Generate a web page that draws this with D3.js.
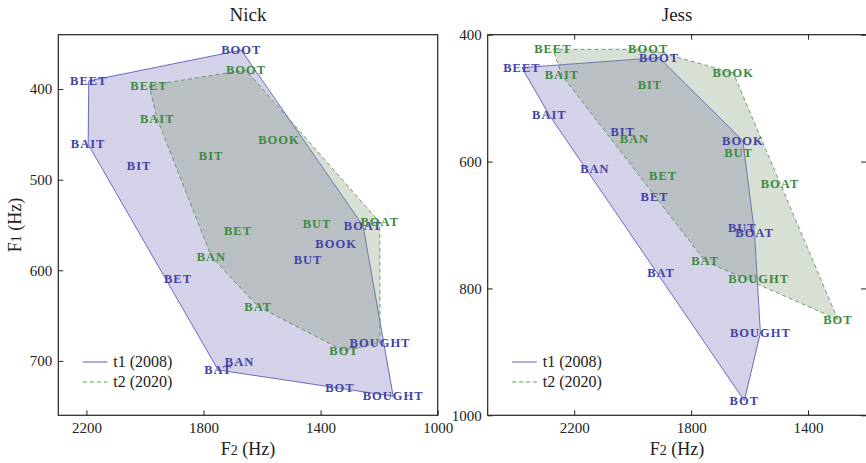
<!DOCTYPE html>
<html>
<head>
<meta charset="utf-8">
<script src="https://cdn.jsdelivr.net/npm/d3@7"></script>
<style>
  body { margin: 0; background: #fff; }
  svg { display: block; font-family: "Liberation Serif", "DejaVu Serif", serif; }
</style>
</head>
<body>
<svg id="chart" width="866" height="463"></svg>
<script>
// vowel order shared by every series below
const vowels = ["BEET", "BAIT", "BIT", "BET", "BAN", "BAT", "BOT", "BOUGHT", "BUT", "BOOK", "BOAT", "BOOT"];

// Nick, formant values in Hz
const nickT1F2 = [2192, 2194, 2020, 1887, 1677, 1750, 1334, 1152, 1443, 1347, 1255, 1671];
const nickT1F1 = [391, 461, 485, 609, 701, 710, 730, 739, 588, 571, 551, 357];
const nickT2F2 = [1986, 1958, 1774, 1682, 1773, 1613, 1320, 1197, 1412, 1542, 1198, 1655];
const nickT2F1 = [396, 433, 474, 556, 585, 640, 689, 680, 549, 456, 547, 379];

// Jess
const jessT1F2 = [2379, 2285, 2034, 1925, 2129, 1903, 1618, 1563, 1625, 1623, 1583, 1910];
const jessT1F1 = [452, 527, 553, 656, 612, 776, 977, 870, 705, 567, 713, 436];
const jessT2F2 = [2273, 2242, 1941, 1896, 1994, 1752, 1298, 1569, 1638, 1656, 1496, 1947];
const jessT2F1 = [423, 464, 479, 623, 565, 757, 849, 785, 587, 460, 635, 423];

const seriesNames = ["t1 (2008)", "t2 (2020)"];

const nickXTicks = [2200, 1800, 1400, 1000];
const nickYTicks = [400, 500, 600, 700];
const jessXTicks = [2200, 1800, 1400];
const jessYTicks = [400, 600, 800, 1000];

// the source figure prints Nick's 2020 BOUGHT label in the 2008 colour
const t2LabelsInT1Colour = ["Nick:BOUGHT"];

const svg = d3.select("#chart");

const style = {
    t1: { text: "#4343a6", stroke: "#4a4ab4", fill: "rgb(60,50,150)", fillOpacity: 0.22, dash: null },
    t2: { text: "#3c8a40", stroke: "#4b8c4b", fill: "rgb(125,148,111)", fillOpacity: 0.3, dash: "4,3" }
};

const panels = [
    {
        name: "Nick", x0: 58.3, x1: 437.7, frameRight: 437.7,
        f2Domain: [2296, 1000], f1Domain: [340, 760],
        xTicks: nickXTicks, yTicks: nickYTicks, mirror: false,
        t1: { f2: nickT1F2, f1: nickT1F1 }, t2: { f2: nickT2F2, f1: nickT2F1 }
    },
    {
        // right frame edge sits just past the picture
        name: "Jess", x0: 487.7, x1: 866.5, frameRight: 867.5,
        f2Domain: [2496, 1200], f1Domain: [400, 1000],
        xTicks: jessXTicks, yTicks: jessYTicks, mirror: true,
        t1: { f2: jessT1F2, f1: jessT1F1 }, t2: { f2: jessT2F2, f1: jessT2F1 }
    }
];
const y0 = 34.7, y1 = 415.3;

panels.forEach(p => {
    const x = d3.scaleLinear().domain(p.f2Domain).range([p.x0, p.x1]);
    const y = d3.scaleLinear().domain(p.f1Domain).range([y0, y1]);
    const g = svg.append("g");

    const pts = k => vowels.map((v, i) => ({ v, px: x(p[k].f2[i]), py: y(p[k].f1[i]) }));
    const series = { t1: pts("t1"), t2: pts("t2") };

    // hull fills
    ["t1", "t2"].forEach(k => {
        const hull = d3.polygonHull(series[k].map(d => [d.px, d.py]));
        g.append("path")
            .attr("d", "M" + hull.join("L") + "Z")
            .attr("fill", style[k].fill)
            .attr("fill-opacity", style[k].fillOpacity)
            .attr("stroke", style[k].stroke)
            .attr("stroke-width", 0.8)
            .attr("stroke-dasharray", style[k].dash);
    });

    // vowel labels
    ["t1", "t2"].forEach(k => {
        g.selectAll(null).data(series[k]).join("text")
            .attr("x", d => d.px)
            .attr("y", d => d.py)
            .attr("dy", "0.33em")
            .attr("text-anchor", "middle")
            .attr("font-size", 12.5)
            .attr("font-weight", "bold")
            .attr("letter-spacing", 1)
            .attr("fill", d => (k === "t2" && t2LabelsInT1Colour.includes(p.name + ":" + d.v)) ? style.t1.text : style[k].text)
            .text(d => d.v);
    });

    // axes, ticks point inward
    const axL = g.append("g").attr("transform", `translate(${p.x0},0)`)
        .call(d3.axisLeft(y).tickValues(p.yTicks).tickSize(-5).tickPadding(6).tickFormat(d3.format("d")));
    const axB = g.append("g").attr("transform", `translate(0,${y1})`)
        .call(d3.axisBottom(x).tickValues(p.xTicks).tickSize(-5).tickPadding(7).tickFormat(d3.format("d")));
    const axes = [axL, axB];
    if (p.mirror) {
        axes.push(g.append("g").attr("transform", `translate(0,${y0})`)
            .call(d3.axisTop(x).tickValues(p.xTicks).tickSize(-5).tickFormat("")));
        axes.push(g.append("g").attr("transform", `translate(866,0)`)
            .call(d3.axisRight(y).tickValues(p.yTicks).tickSize(-5).tickFormat("")));
    }
    axes.forEach(a => {
        a.select(".domain").remove();
        a.selectAll(".tick line").attr("stroke", "#222");
        a.selectAll(".tick text").attr("font-size", 15).attr("fill", "#222")
            .attr("font-family", "Liberation Serif, serif");
    });

    g.append("rect")
        .attr("x", p.x0).attr("y", y0)
        .attr("width", p.frameRight - p.x0).attr("height", y1 - y0)
        .attr("fill", "none").attr("stroke", "#222").attr("stroke-width", 1.2);

    // title
    g.append("text")
        .attr("x", (p.x0 + p.x1) / 2).attr("y", 21)
        .attr("text-anchor", "middle").attr("font-size", 19).attr("fill", "#222")
        .text(p.name);

    // x label
    const xl = g.append("text")
        .attr("x", (p.x0 + p.x1) / 2).attr("y", 455)
        .attr("text-anchor", "middle").attr("font-size", 18).attr("fill", "#222");
    xl.append("tspan").text("F");
    xl.append("tspan").attr("font-size", 14).text("2");
    xl.append("tspan").text(" (Hz)");

    // legend
    const lg = g.append("g").attr("transform", `translate(${p.x0 + 24.5},0)`);
    seriesNames.forEach((name, i) => {
        const k = i === 0 ? "t1" : "t2";
        const ly = 362 + i * 20;
        lg.append("line")
            .attr("x1", 0).attr("x2", 24.6).attr("y1", ly).attr("y2", ly)
            .attr("stroke", style[k].stroke).attr("stroke-width", 0.9)
            .attr("stroke-dasharray", style[k].dash);
        lg.append("text")
            .attr("x", 30.5).attr("y", ly + 5.3)
            .attr("font-size", 16).attr("fill", "#222")
            .text(name);
    });
});

// y label (left panel only)
const yl = svg.append("text")
    .attr("transform", "translate(20.5,225) rotate(-90)")
    .attr("text-anchor", "middle").attr("font-size", 18).attr("fill", "#222");
yl.append("tspan").text("F");
yl.append("tspan").attr("font-size", 14).text("1");
yl.append("tspan").text(" (Hz)");
</script>
</body>
</html>
